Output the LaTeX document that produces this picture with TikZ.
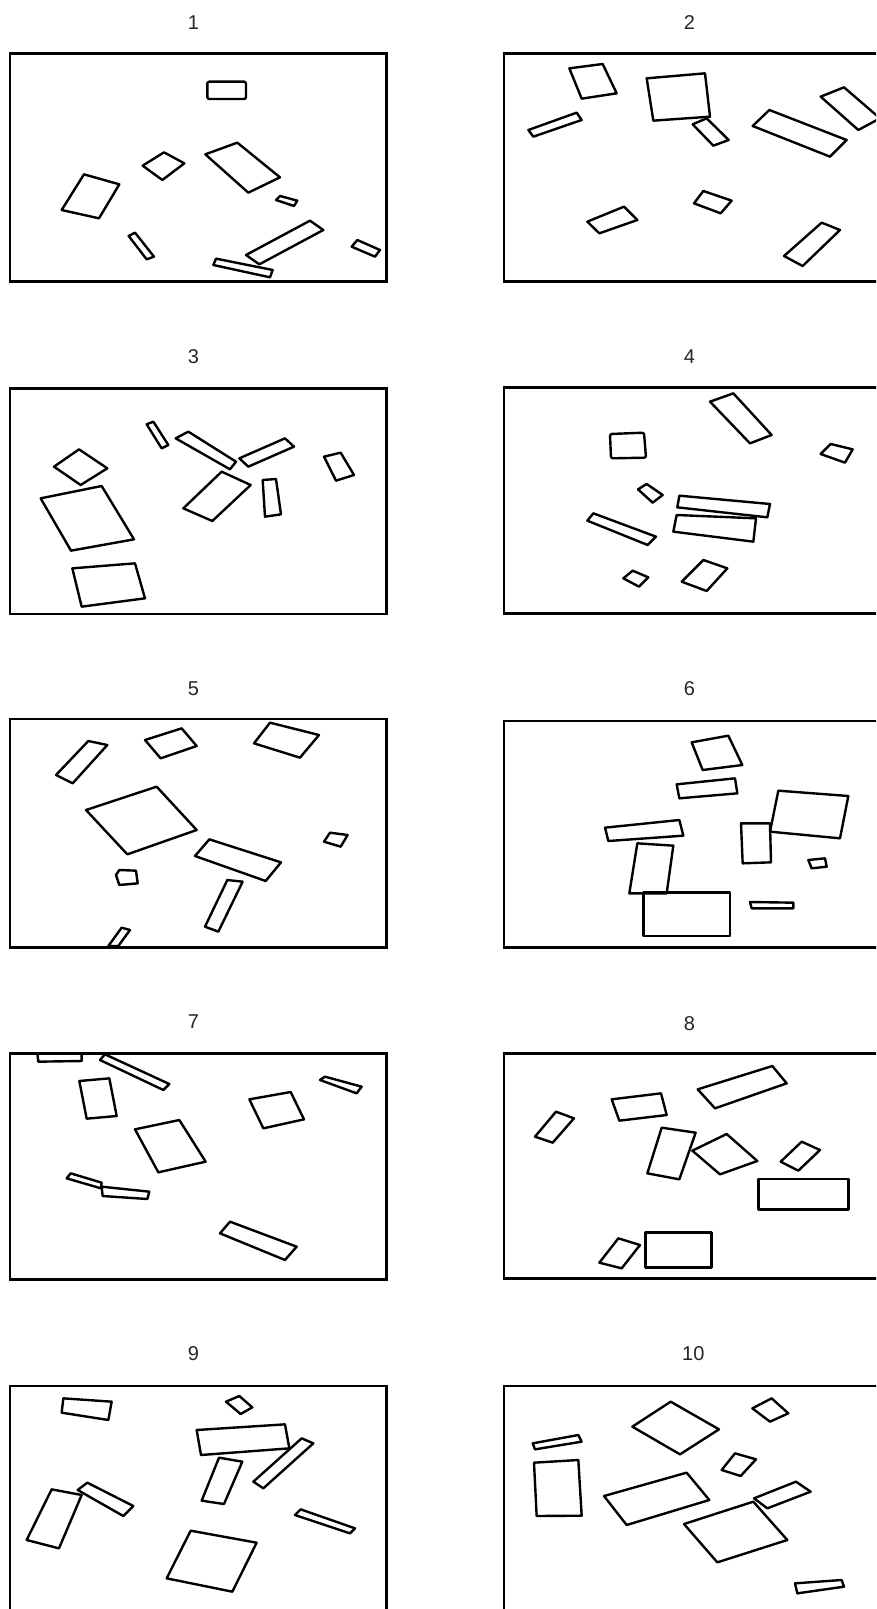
\documentclass[tikz,border=0pt]{standalone}
\usepackage{fontspec}
\setmainfont{Liberation Sans}
\begin{document}
\begin{tikzpicture}[x=1pt,y=-1pt,
  frm/.style={draw=black,line width=2.8pt},
  shp/.style={draw=black,line width=2.4pt,line join=round},
  ttl/.style={font=\fontsize{20}{22}\selectfont,text=black!85,inner sep=0pt}]
\useasboundingbox (0,0) rectangle (876,1609);
\clip (0,0) rectangle (876,1609);
% ---------- Panel 1 ----------
\begin{scope}[shift={(0,0)},scale=1/3]
\node[ttl] (t1) at (580,68) {1};
\draw[frm] (30,160) rectangle (1160,845);
\draw[shp,rounded corners=2pt] (622,245) rectangle (738,297);
\draw[shp] (428,497)--(492,457)--(553,490)--(487,540)--cycle;
\draw[shp] (616,463)--(712,428)--(840,532)--(745,578)--cycle;
\draw[shp] (185,630)--(252,523)--(358,553)--(297,655)--cycle;
\draw[shp] (828,600)--(840,588)--(892,602)--(882,618)--cycle;
\draw[shp] (386,708)--(405,698)--(462,770)--(440,778)--cycle;
\draw[shp] (738,765)--(930,662)--(970,690)--(778,793)--cycle;
\draw[shp] (640,795)--(648,776)--(818,810)--(810,832)--cycle;
\draw[shp] (1055,740)--(1072,720)--(1140,750)--(1125,770)--cycle;
\end{scope}
% ---------- Panel 2 ----------
\begin{scope}[shift={(480,0)},scale=1/3]
\node[ttl] (t2) at (628,68) {2};
\draw[frm] (72,160) rectangle (1202,845);
\draw[shp] (268,205)--(368,192)--(410,280)--(305,296)--cycle;
\draw[shp] (500,235)--(675,220)--(690,350)--(520,362)--cycle;
\draw[shp] (145,390)--(290,338)--(305,360)--(160,410)--cycle;
\draw[shp] (638,373)--(680,355)--(746,420)--(700,437)--cycle;
\draw[shp] (818,378)--(868,330)--(1100,420)--(1050,470)--cycle;
\draw[shp] (1022,290)--(1092,262)--(1200,355)--(1135,390)--cycle;
\draw[shp] (322,665)--(432,620)--(472,660)--(358,700)--cycle;
\draw[shp] (642,610)--(670,573)--(755,602)--(722,640)--cycle;
\draw[shp] (912,768)--(1025,668)--(1080,690)--(968,798)--cycle;
\end{scope}
% ---------- Panel 3 ----------
\begin{scope}[shift={(0,330)},scale=1/3]
\node[ttl] (t3) at (580,80) {3};
\draw[frm] (30,175) rectangle (1160,852);
\draw[shp] (440,283)--(460,275)--(505,345)--(485,355)--cycle;
\draw[shp] (527,325)--(565,305)--(708,395)--(690,418)--cycle;
\draw[shp] (718,385)--(855,325)--(882,350)--(745,410)--cycle;
\draw[shp] (162,410)--(237,358)--(322,415)--(242,465)--cycle;
\draw[shp] (122,505)--(305,468)--(402,628)--(213,662)--cycle;
\draw[shp] (550,535)--(665,425)--(752,465)--(637,573)--cycle;
\draw[shp] (788,450)--(828,447)--(843,553)--(795,560)--cycle;
\draw[shp] (972,380)--(1022,368)--(1062,435)--(1008,452)--cycle;
\draw[shp] (217,715)--(405,700)--(435,805)--(245,830)--cycle;
\end{scope}
% ---------- Panel 4 ----------
\begin{scope}[shift={(480,330)},scale=1/3]
\node[ttl] (t4) at (628,80) {4};
\draw[frm] (72,172) rectangle (1202,850);
\draw[shp] (690,215)--(760,190)--(875,315)--(810,340)--cycle;
\draw[shp,rounded corners=2pt] (390,312)--(492,308)--(498,383)--(393,385)--cycle;
\draw[shp] (1022,372)--(1052,342)--(1118,358)--(1095,398)--cycle;
\draw[shp] (474,478)--(500,462)--(548,495)--(518,518)--cycle;
\draw[shp] (598,497)--(870,522)--(862,562)--(592,532)--cycle;
\draw[shp] (590,555)--(828,565)--(820,635)--(580,605)--cycle;
\draw[shp] (322,572)--(340,550)--(528,620)--(503,645)--cycle;
\draw[shp] (430,745)--(458,722)--(505,742)--(477,770)--cycle;
\draw[shp] (605,755)--(670,690)--(742,715)--(680,783)--cycle;
\end{scope}
% ---------- Panel 5 ----------
\begin{scope}[shift={(0,665)},scale=1/3]
\node[ttl] (t5) at (580,70) {5};
\draw[frm] (30,162) rectangle (1160,848);
\draw[shp] (168,330)--(265,228)--(322,240)--(218,355)--cycle;
\draw[shp] (435,225)--(545,190)--(590,243)--(482,280)--cycle;
\draw[shp] (762,235)--(810,173)--(957,210)--(900,278)--cycle;
\draw[shp] (258,435)--(470,365)--(590,495)--(382,568)--cycle;
\draw[shp] (972,530)--(990,503)--(1043,510)--(1022,545)--cycle;
\draw[shp] (585,573)--(628,523)--(843,592)--(797,648)--cycle;
\draw[shp] (348,630)--(358,615)--(408,617)--(413,655)--(358,660)--cycle;
\draw[shp] (615,785)--(682,645)--(728,650)--(655,800)--cycle;
\draw[shp] (325,843)--(365,788)--(390,795)--(355,843)--cycle;
\end{scope}
% ---------- Panel 6 ----------
\begin{scope}[shift={(480,665)},scale=1/3]
\node[ttl] (t6) at (628,72) {6};
\draw[frm] (72,168) rectangle (1202,848);
\draw[shp] (635,232)--(745,212)--(787,300)--(668,315)--cycle;
\draw[shp] (590,358)--(765,340)--(772,385)--(598,400)--cycle;
\draw[shp] (895,377)--(1105,393)--(1080,520)--(870,500)--cycle;
\draw[shp] (783,475)--(870,475)--(873,592)--(788,595)--cycle;
\draw[shp] (375,488)--(598,465)--(610,512)--(385,528)--cycle;
\draw[shp] (472,535)--(580,542)--(560,685)--(448,685)--cycle;
\draw[shp] (490,683) rectangle (750,813);
\draw[shp] (985,585)--(1035,580)--(1040,605)--(995,610)--cycle;
\draw[shp] (810,711)--(940,713)--(940,730)--(815,730)--cycle;
\end{scope}
% ---------- Panel 7 ----------
\begin{scope}[shift={(0,1000)},scale=1/3]
\node[ttl] (t7) at (580,66) {7};
\draw[frm] (30,160) rectangle (1160,838);
\draw[shp] (112,160)--(245,160)--(245,183)--(115,185)--cycle;
\draw[shp] (300,180)--(315,163)--(508,252)--(490,270)--cycle;
\draw[shp] (238,243)--(328,235)--(350,348)--(260,356)--cycle;
\draw[shp] (405,388)--(538,360)--(617,485)--(475,517)--cycle;
\draw[shp] (748,298)--(872,276)--(912,358)--(790,385)--cycle;
\draw[shp] (960,240)--(975,230)--(1085,260)--(1070,280)--cycle;
\draw[shp] (200,535)--(212,520)--(305,548)--(303,565)--cycle;
\draw[shp] (305,560)--(448,575)--(442,597)--(308,588)--cycle;
\draw[shp] (660,700)--(690,665)--(890,740)--(855,780)--cycle;
\end{scope}
% ---------- Panel 8 ----------
\begin{scope}[shift={(480,1000)},scale=1/3]
\node[ttl] (t8) at (628,70) {8};
\draw[frm] (72,160) rectangle (1202,835);
\draw[shp] (653,268)--(877,198)--(920,250)--(705,325)--cycle;
\draw[shp] (395,298)--(543,280)--(560,345)--(418,362)--cycle;
\draw[shp] (165,410)--(228,335)--(282,355)--(218,428)--cycle;
\draw[shp] (502,520)--(545,383)--(647,398)--(598,538)--cycle;
\draw[shp] (637,452)--(740,402)--(832,483)--(720,523)--cycle;
\draw[shp] (902,485)--(965,425)--(1020,450)--(955,512)--cycle;
\draw[shp] (835,537) rectangle (1105,628);
\draw[shp] (358,788)--(415,715)--(480,735)--(425,805)--cycle;
\draw[shp] (497,697) rectangle (695,802);
\end{scope}
% ---------- Panel 9 ----------
\begin{scope}[shift={(0,1330)},scale=1/3]
\node[ttl] (t9) at (580,72) {9};
\draw[frm] (30,168) rectangle (1160,853);
\draw[shp] (190,205)--(335,215)--(325,270)--(185,248)--cycle;
\draw[shp] (678,215)--(718,198)--(757,232)--(722,252)--cycle;
\draw[shp] (590,300)--(855,283)--(868,355)--(603,375)--cycle;
\draw[shp] (760,455)--(905,325)--(940,340)--(790,475)--cycle;
\draw[shp] (605,512)--(657,383)--(727,395)--(672,522)--cycle;
\draw[shp] (80,630)--(155,478)--(245,495)--(177,655)--cycle;
\draw[shp] (233,480)--(262,458)--(400,528)--(370,558)--cycle;
\draw[shp] (885,555)--(902,538)--(1065,595)--(1050,610)--cycle;
\draw[shp] (500,745)--(572,602)--(770,638)--(697,785)--cycle;
\end{scope}
% ---------- Panel 10 ----------
\begin{scope}[shift={(480,1330)},scale=1/3]
\node[ttl] (t10) at (640,72) {10};
\draw[frm] (72,168) rectangle (1202,853);
\draw[shp] (457,290)--(572,215)--(717,298)--(600,373)--cycle;
\draw[shp] (817,235)--(875,205)--(925,250)--(870,275)--cycle;
\draw[shp] (158,340)--(295,315)--(305,335)--(165,358)--cycle;
\draw[shp] (162,398)--(295,390)--(305,557)--(170,558)--cycle;
\draw[shp] (725,420)--(765,370)--(828,388)--(782,438)--cycle;
\draw[shp] (372,498)--(620,428)--(688,510)--(440,585)--cycle;
\draw[shp] (822,505)--(948,455)--(992,485)--(862,535)--cycle;
\draw[shp] (612,582)--(820,515)--(922,630)--(712,697)--cycle;
\draw[shp] (945,760)--(1085,750)--(1092,770)--(952,790)--cycle;
\end{scope}
\end{tikzpicture}
\end{document}
